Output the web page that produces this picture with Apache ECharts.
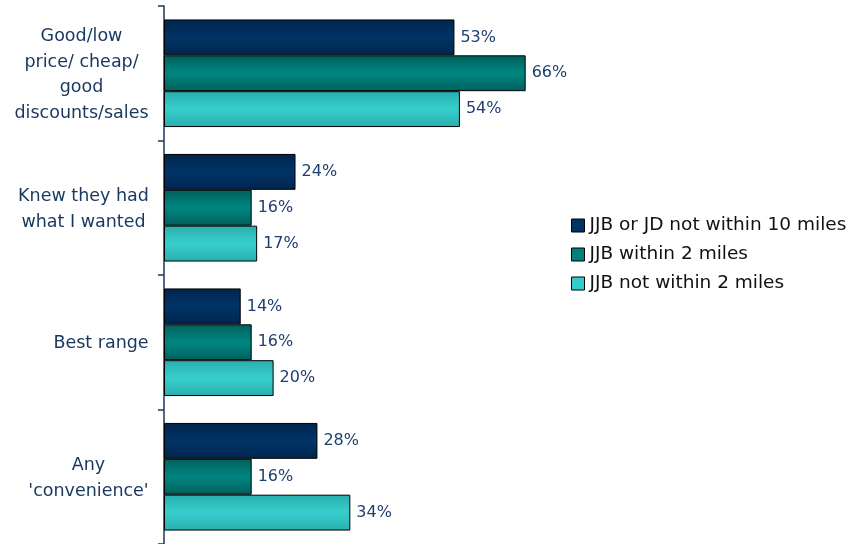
<!DOCTYPE html>
<html>
<head>
<meta charset="utf-8">
<script src="https://cdn.jsdelivr.net/npm/echarts@6/dist/echarts.min.js"></script>
<style>
  html, body { margin: 0; padding: 0; background: #fff; }
  #chart { width: 854px; height: 544px; }
</style>
</head>
<body>
<div id="chart"></div>
<script>
// Reasons given for choosing the store, by shopper location
const categories = [
  "Good/low\nprice/ cheap/\ngood\ndiscounts/sales",
  "Knew they had\nwhat I wanted",
  "Best range",
  "Any\n'convenience'"
];
const seriesNames = [
  "JJB or JD not within 10 miles",
  "JJB within 2 miles",
  "JJB not within 2 miles"
];
const farFromStores = [53, 24, 14, 28];
const jjbWithin2 = [66, 16, 16, 16];
const jjbNotWithin2 = [54, 17, 20, 34];

const LABEL_SIZE = 17.5;
const measureCtx = document.createElement("canvas").getContext("2d");
measureCtx.font = LABEL_SIZE + "px 'DejaVu Sans'";

function blockWidth(value) {
  const lines = value.split("\n");
  return Math.ceil(Math.max(...lines.map(l => measureCtx.measureText(l).width))) + 2;
}
// Centre each line within its own block, block flush against the axis
function categoryLabel(value) {
  const w = blockWidth(value);
  return value.split("\n").map(l => "{c" + w + "|" + l + "}").join("\n");
}
const rich = {};
categories.forEach(c => {
  const w = blockWidth(c);
  rich["c" + w] = { width: w, align: "center", lineHeight: 25.5, fontSize: LABEL_SIZE,
                    fontFamily: "DejaVu Sans", color: "#17375e", padding: [3, 0, 0, 0] };
});

function bandGradient(edge, mid) {
  return new echarts.graphic.LinearGradient(0, 0, 0, 1, [
    { offset: 0, color: edge },
    { offset: 0.45, color: mid },
    { offset: 0.55, color: mid },
    { offset: 1, color: edge }
  ]);
}
const fills = [
  bandGradient("#00254c", "#003366"),
  bandGradient("#00605c", "#00837e"),
  bandGradient("#29aeac", "#36cccb")
];
const legendFills = ["#003366", "#00807b", "#33cccc"];
const values = [farFromStores, jjbWithin2, jjbNotWithin2];

const chart = echarts.init(document.getElementById("chart"), null, { renderer: "canvas" });
chart.setOption({
  animation: false,
  grid: { left: 164, top: 6, width: 548, height: 539, containLabel: false },
  legend: {
    orient: "vertical",
    left: 566,
    top: 210,
    itemWidth: 13,
    itemHeight: 13,
    itemGap: 8,
    textStyle: { fontSize: 18.5, lineHeight: 21, fontFamily: "DejaVu Sans", color: "#111" },
    data: seriesNames.map((n, i) => ({
      name: n,
      icon: "rect",
      itemStyle: { color: legendFills[i], borderColor: "#000", borderWidth: 1 }
    }))
  },
  xAxis: {
    type: "value",
    min: 0,
    max: 100,
    show: false
  },
  yAxis: {
    type: "category",
    inverse: true,
    data: categories,
    axisLine: { show: true, lineStyle: { color: "#17375e", width: 1.5 } },
    axisTick: { show: true, length: 6, lineStyle: { color: "#17375e", width: 1.5 } },
    axisLabel: {
      margin: 14,
      align: "right",
      formatter: categoryLabel,
      rich: rich
    }
  },
  series: values.map((v, i) => ({
    name: seriesNames[i],
    type: "bar",
    data: v,
    barGap: "0%",
    barCategoryGap: "20%",
    itemStyle: { color: fills[i], borderColor: "#000", borderWidth: 1 },
    label: {
      show: true,
      position: "right",
      distance: 6,
      formatter: "{c}%",
      fontSize: 16,
      fontFamily: "DejaVu Sans",
      color: "#1f3f6f"
    }
  }))
});
</script>
</body>
</html>
